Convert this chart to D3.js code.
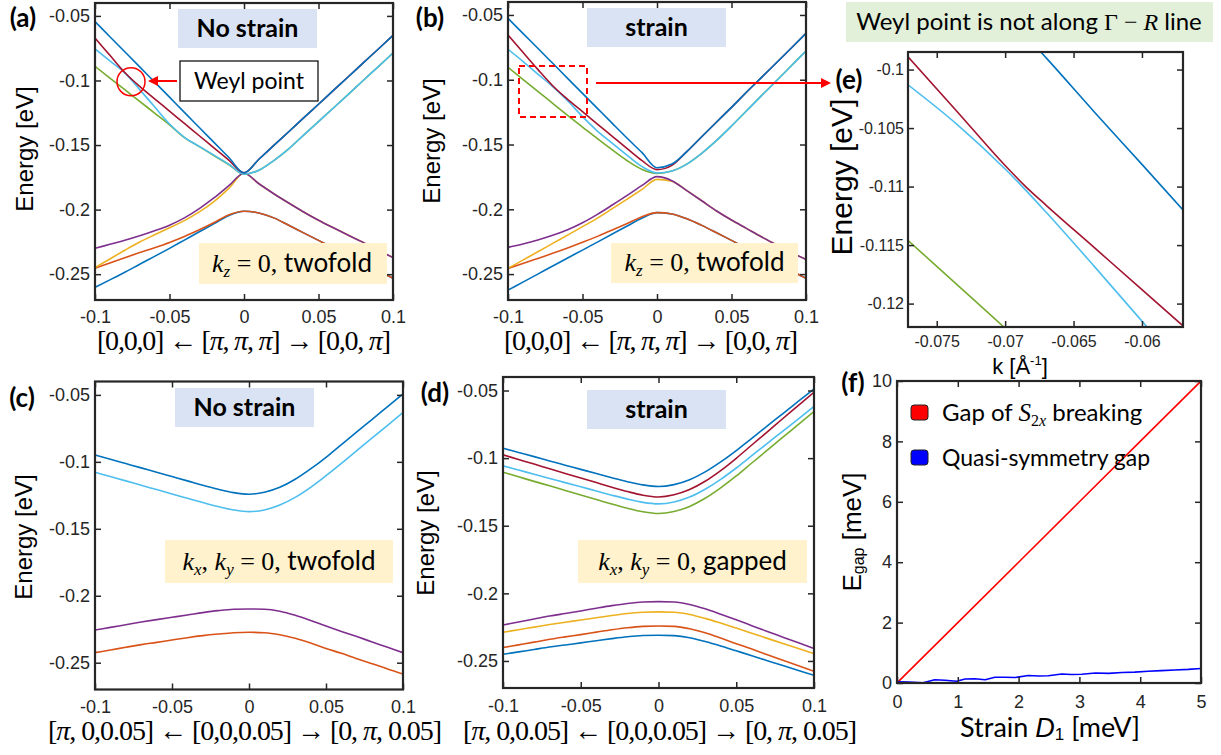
<!DOCTYPE html>
<html>
<head>
<meta charset="utf-8">
<script src="https://cdn.jsdelivr.net/npm/d3@7"></script>
<style>
  html, body { margin: 0; padding: 0; background: #fff; }
  svg { display: block; }
  text { white-space: pre; }
</style>
</head>
<body>
<svg id="fig" width="1221" height="755"></svg>
<script>
// momentum grid shared by panels (a)-(d)
const kGrid = [-0.1,-0.09,-0.08,-0.07,-0.06,-0.05,-0.04,-0.03,-0.02,-0.01,0,0.01,0.02,0.03,0.04,0.05,0.06,0.07,0.08,0.09,0.1];

// (a) no strain, kz = 0
const aBand1 = [-0.2602,-0.2544,-0.2485,-0.2423,-0.2362,-0.2300,-0.2236,-0.2172,-0.2108,-0.2045,-0.2013,-0.2026,-0.2064,-0.2121,-0.2180,-0.2238,-0.2297,-0.2356,-0.2415,-0.2474,-0.2531];
const aBand2 = [-0.2454,-0.2413,-0.2372,-0.2333,-0.2295,-0.2254,-0.2208,-0.2156,-0.2100,-0.2040,-0.2013,-0.2026,-0.2064,-0.2121,-0.2180,-0.2238,-0.2297,-0.2356,-0.2415,-0.2474,-0.2531];
const aBand3 = [-0.2449,-0.2382,-0.2315,-0.2251,-0.2195,-0.2141,-0.2085,-0.2018,-0.1936,-0.1833,-0.1718,-0.1800,-0.1877,-0.1949,-0.2018,-0.2082,-0.2141,-0.2198,-0.2254,-0.2313,-0.2372];
const aBand4 = [-0.2300,-0.2269,-0.2238,-0.2203,-0.2164,-0.2121,-0.2064,-0.1992,-0.1908,-0.1813,-0.1718,-0.1800,-0.1877,-0.1949,-0.2018,-0.2082,-0.2141,-0.2198,-0.2254,-0.2313,-0.2372];
const aBand5 = [-0.0890,-0.0981,-0.1071,-0.1162,-0.1252,-0.1343,-0.1442,-0.1512,-0.1583,-0.1653,-0.1725,-0.1695,-0.1620,-0.1529,-0.1423,-0.1318,-0.1213,-0.1107,-0.1000,-0.0894,-0.0787];
const aBand6 = [-0.0756,-0.0849,-0.0941,-0.1071,-0.1204,-0.1337,-0.1440,-0.1510,-0.1580,-0.1650,-0.1725,-0.1695,-0.1620,-0.1529,-0.1423,-0.1318,-0.1213,-0.1107,-0.1000,-0.0894,-0.0787];
const aBand7 = [-0.0672,-0.0805,-0.0938,-0.1046,-0.1142,-0.1237,-0.1333,-0.1428,-0.1524,-0.1619,-0.1715,-0.1610,-0.1503,-0.1397,-0.1290,-0.1184,-0.1077,-0.0971,-0.0864,-0.0758,-0.0651];
const aBand8 = [-0.0544,-0.0661,-0.0778,-0.0895,-0.1012,-0.1129,-0.1247,-0.1364,-0.1481,-0.1598,-0.1715,-0.1610,-0.1503,-0.1397,-0.1290,-0.1184,-0.1077,-0.0971,-0.0864,-0.0758,-0.0651];

// (b) strain, kz = 0
const bBand1 = [-0.2624,-0.2562,-0.2500,-0.2438,-0.2376,-0.2315,-0.2253,-0.2191,-0.2129,-0.2067,-0.2026,-0.2036,-0.2073,-0.2124,-0.2181,-0.2240,-0.2299,-0.2358,-0.2418,-0.2474,-0.2533];
const bBand2 = [-0.2456,-0.2418,-0.2379,-0.2340,-0.2299,-0.2255,-0.2209,-0.2160,-0.2109,-0.2057,-0.2026,-0.2036,-0.2073,-0.2124,-0.2181,-0.2240,-0.2299,-0.2358,-0.2418,-0.2474,-0.2533];
const bBand3 = [-0.2456,-0.2392,-0.2328,-0.2263,-0.2199,-0.2134,-0.2068,-0.1995,-0.1921,-0.1846,-0.1769,-0.1784,-0.1856,-0.1934,-0.2013,-0.2083,-0.2147,-0.2212,-0.2273,-0.2333,-0.2387];
const bBand4 = [-0.2294,-0.2268,-0.2237,-0.2201,-0.2158,-0.2104,-0.2039,-0.1967,-0.1893,-0.1815,-0.1748,-0.1779,-0.1856,-0.1934,-0.2013,-0.2083,-0.2147,-0.2212,-0.2273,-0.2333,-0.2387];
const bBand5 = [-0.0904,-0.0997,-0.1089,-0.1182,-0.1275,-0.1365,-0.1455,-0.1542,-0.1625,-0.1692,-0.1723,-0.1705,-0.1651,-0.1568,-0.1468,-0.1357,-0.1241,-0.1125,-0.1010,-0.0894,-0.0778];
const bBand6 = [-0.0765,-0.0858,-0.0956,-0.1053,-0.1162,-0.1285,-0.1396,-0.1491,-0.1584,-0.1671,-0.1720,-0.1705,-0.1651,-0.1568,-0.1468,-0.1357,-0.1241,-0.1125,-0.1010,-0.0894,-0.0778];
const bBand7 = [-0.0654,-0.0788,-0.0920,-0.1046,-0.1151,-0.1246,-0.1342,-0.1437,-0.1532,-0.1625,-0.1694,-0.1661,-0.1555,-0.1440,-0.1326,-0.1213,-0.1097,-0.0984,-0.0871,-0.0757,-0.0642];
const bBand8 = [-0.0526,-0.0642,-0.0757,-0.0873,-0.0989,-0.1105,-0.1221,-0.1337,-0.1452,-0.1563,-0.1679,-0.1651,-0.1555,-0.1440,-0.1326,-0.1213,-0.1097,-0.0984,-0.0871,-0.0757,-0.0642];

// (c) no strain, kx,ky = 0 (twofold, only 4 visible bands)
const cBand2 = [-0.2425,-0.2405,-0.2385,-0.2365,-0.2348,-0.2330,-0.2313,-0.2298,-0.2286,-0.2276,-0.2273,-0.2276,-0.2291,-0.2318,-0.2353,-0.2393,-0.2430,-0.2470,-0.2507,-0.2547,-0.2584];
const cBand4 = [-0.2256,-0.2236,-0.2216,-0.2196,-0.2178,-0.2161,-0.2144,-0.2126,-0.2111,-0.2101,-0.2099,-0.2101,-0.2116,-0.2146,-0.2184,-0.2226,-0.2266,-0.2305,-0.2345,-0.2385,-0.2425];
const cBand6 = [-0.1078,-0.1110,-0.1142,-0.1175,-0.1207,-0.1240,-0.1272,-0.1304,-0.1334,-0.1359,-0.1372,-0.1359,-0.1322,-0.1265,-0.1190,-0.1103,-0.1011,-0.0916,-0.0821,-0.0727,-0.0632];
const cBand8 = [-0.0948,-0.0981,-0.1013,-0.1045,-0.1078,-0.1110,-0.1142,-0.1175,-0.1205,-0.1230,-0.1242,-0.1227,-0.1190,-0.1130,-0.1053,-0.0966,-0.0871,-0.0776,-0.0682,-0.0587,-0.0493];

// (d) strain, kx,ky = 0 (gapped)
const dBand1 = [-0.2451,-0.2433,-0.2415,-0.2397,-0.2382,-0.2366,-0.2351,-0.2335,-0.2321,-0.2312,-0.2310,-0.2313,-0.2328,-0.2356,-0.2389,-0.2425,-0.2461,-0.2498,-0.2534,-0.2570,-0.2606];
const dBand2 = [-0.2401,-0.2381,-0.2361,-0.2340,-0.2322,-0.2305,-0.2287,-0.2269,-0.2254,-0.2244,-0.2241,-0.2244,-0.2262,-0.2292,-0.2331,-0.2372,-0.2412,-0.2454,-0.2495,-0.2536,-0.2577];
const dBand3 = [-0.2288,-0.2269,-0.2250,-0.2231,-0.2214,-0.2197,-0.2180,-0.2164,-0.2149,-0.2140,-0.2137,-0.2140,-0.2156,-0.2185,-0.2220,-0.2257,-0.2295,-0.2333,-0.2371,-0.2408,-0.2446];
const dBand4 = [-0.2234,-0.2212,-0.2190,-0.2168,-0.2149,-0.2130,-0.2110,-0.2091,-0.2075,-0.2064,-0.2061,-0.2064,-0.2082,-0.2114,-0.2154,-0.2196,-0.2239,-0.2282,-0.2324,-0.2366,-0.2409];
const dBand5 = [-0.1104,-0.1138,-0.1172,-0.1205,-0.1239,-0.1273,-0.1306,-0.1340,-0.1371,-0.1397,-0.1410,-0.1395,-0.1357,-0.1297,-0.1220,-0.1132,-0.1036,-0.0941,-0.0845,-0.0751,-0.0655];
const dBand6 = [-0.1057,-0.1088,-0.1119,-0.1150,-0.1181,-0.1212,-0.1243,-0.1274,-0.1303,-0.1327,-0.1338,-0.1324,-0.1288,-0.1230,-0.1157,-0.1073,-0.0982,-0.0891,-0.0800,-0.0709,-0.0618];
const dBand7 = [-0.0976,-0.1010,-0.1044,-0.1079,-0.1113,-0.1147,-0.1181,-0.1215,-0.1247,-0.1274,-0.1287,-0.1271,-0.1232,-0.1171,-0.1092,-0.1001,-0.0903,-0.0806,-0.0707,-0.0610,-0.0512];
const dBand8 = [-0.0927,-0.0958,-0.0989,-0.1021,-0.1052,-0.1083,-0.1114,-0.1145,-0.1174,-0.1198,-0.1210,-0.1196,-0.1160,-0.1102,-0.1028,-0.0944,-0.0853,-0.0762,-0.0670,-0.0579,-0.0488];

// (e) zoom near the avoided crossing, k in 1/Angstrom
const eK = [-0.0771,-0.0735,-0.07,-0.0685,-0.067,-0.0635,-0.06,-0.057];
const eGreen = [-0.1146,-0.1184,-0.1221,-0.1237,-0.1253,-0.1290,-0.1327,-0.1359];
const eCyan  = [-0.1013,-0.1047,-0.1085,-0.1103,-0.1122,-0.1168,-0.1215,-0.1256];
const eRed   = [-0.0989,-0.1036,-0.1082,-0.1100,-0.1116,-0.1152,-0.1188,-0.1219];
const eBlue  = [-0.0859,-0.0906,-0.0951,-0.0971,-0.0990,-0.1036,-0.1081,-0.1120];

// (f) gaps vs strain D1 (meV)
const fStrain = [0,1,2,3,4,5];
const fGapS2x = [0,2,4,6,8,10];
const fQuasiX = [0,0.19,0.43,0.62,0.79,0.98,1.12,1.28,1.45,1.61,1.78,1.94,2.16,2.33,2.49,2.71,2.87,3.04,3.26,3.48,3.7,3.91,4.13,4.35,4.57,4.79,5];
const fQuasiY = [0.04,0.03,0.01,0.11,0.09,0.06,0.13,0.14,0.11,0.19,0.19,0.18,0.25,0.23,0.24,0.3,0.28,0.29,0.33,0.32,0.35,0.36,0.39,0.41,0.43,0.45,0.48];

// tick values
const kTicks = [-0.1,-0.05,0,0.05,0.1];
const energyTicks = [-0.25,-0.2,-0.15,-0.1,-0.05];
const eKTicks = [-0.075,-0.07,-0.065,-0.06];
const eEnergyTicks = [-0.12,-0.115,-0.11,-0.105,-0.1];
const fXTicks = [0,1,2,3,4,5];
const fYTicks = [0,2,4,6,8,10];

// matlab default colours
const C = {blue: "#0072BD", orange: "#D95319", yellow: "#EDB120", purple: "#7E2F8E",
           green: "#77AC30", cyan: "#4DBEEE", red: "#A2142F"};
const SANS = "'Liberation Sans', Arial, sans-serif";
const CAL = "Lato, 'Open Sans', sans-serif";
const SERIF = "'Liberation Serif', 'DejaVu Serif', serif";
const INK = "#262626";

const svg = d3.select("#fig");
const defs = svg.append("defs");
defs.append("marker")
    .attr("id", "head")
    .attr("viewBox", "0 0 10 10")
    .attr("refX", 8).attr("refY", 5)
    .attr("markerWidth", 10).attr("markerHeight", 10)
    .attr("markerUnits", "userSpaceOnUse")
    .attr("orient", "auto")
  .append("path")
    .attr("d", "M0,0L10,5L0,10z")
    .attr("fill", "#ff0000");

const panels = [
    {id: "a", x0: 95, x1: 393, y0: 3, y1: 300, xDom: [-0.1, 0.1], yDom: [-0.27, -0.04],
     xTicks: kTicks, yTicks: energyTicks, font: 18, xPad: 10, yPad: 5,
     series: [[kGrid, aBand1, C.blue], [kGrid, aBand2, C.orange], [kGrid, aBand3, C.yellow], [kGrid, aBand4, C.purple],
              [kGrid, aBand5, C.green], [kGrid, aBand6, C.cyan], [kGrid, aBand7, C.red], [kGrid, aBand8, C.blue]]},
    {id: "b", x0: 508, x1: 806, y0: 2, y1: 300, xDom: [-0.1, 0.1], yDom: [-0.27, -0.04],
     xTicks: kTicks, yTicks: energyTicks, font: 18, xPad: 10, yPad: 5,
     series: [[kGrid, bBand1, C.blue], [kGrid, bBand2, C.orange], [kGrid, bBand3, C.yellow], [kGrid, bBand4, C.purple],
              [kGrid, bBand5, C.green], [kGrid, bBand6, C.cyan], [kGrid, bBand7, C.red], [kGrid, bBand8, C.blue]]},
    {id: "c", x0: 95, x1: 403, y0: 381.5, y1: 689.5, xDom: [-0.1, 0.1], yDom: [-0.27, -0.04],
     xTicks: kTicks, yTicks: energyTicks, font: 18, xPad: 11, yPad: 5,
     series: [[kGrid, cBand2, C.orange], [kGrid, cBand4, C.purple], [kGrid, cBand6, C.cyan], [kGrid, cBand8, C.blue]]},
    {id: "d", x0: 503, x1: 814, y0: 377, y1: 688, xDom: [-0.1, 0.1], yDom: [-0.27, -0.04],
     xTicks: kTicks, yTicks: energyTicks, font: 18, xPad: 11, yPad: 5,
     series: [[kGrid, dBand1, C.blue], [kGrid, dBand2, C.orange], [kGrid, dBand3, C.yellow], [kGrid, dBand4, C.purple],
              [kGrid, dBand5, C.green], [kGrid, dBand6, C.cyan], [kGrid, dBand7, C.red], [kGrid, dBand8, C.blue]]},
    {id: "e", x0: 908, x1: 1183, y0: 52, y1: 327, xDom: [-0.0771, -0.057], yDom: [-0.122, -0.0985],
     xTicks: eKTicks, yTicks: eEnergyTicks, font: 16, xPad: 9, yPad: 4,
     series: [[eK, eGreen, C.green], [eK, eCyan, C.cyan], [eK, eRed, C.red], [eK, eBlue, C.blue]]},
    {id: "f", x0: 897, x1: 1201, y0: 381, y1: 683, xDom: [0, 5], yDom: [0, 10],
     xTicks: fXTicks, yTicks: fYTicks, font: 18, xPad: 12, yPad: 5, linear: true,
     series: [[fStrain, fGapS2x, "#ff0000"], [fQuasiX, fQuasiY, "#0000ff"]]}
];

function drawPanel(p) {
    const x = d3.scaleLinear().domain(p.xDom).range([p.x0, p.x1]);
    const y = d3.scaleLinear().domain(p.yDom).range([p.y1, p.y0]);

    defs.append("clipPath").attr("id", "clip-" + p.id)
      .append("rect")
        .attr("x", p.x0).attr("y", p.y0)
        .attr("width", p.x1 - p.x0).attr("height", p.y1 - p.y0);

    const line = d3.line()
        .x(d => x(d[0]))
        .y(d => y(d[1]))
        .curve(p.linear ? d3.curveLinear : d3.curveMonotoneX);

    const g = svg.append("g").attr("clip-path", `url(#clip-${p.id})`);
    p.series.forEach(([xs, ys, col]) => {
        g.append("path")
            .datum(d3.zip(xs, ys))
            .attr("fill", "none")
            .attr("stroke", col)
            .attr("stroke-width", 1.6)
            .attr("stroke-linejoin", "round")
            .attr("d", line);
    });

    // axes, ticks inward on all four sides like matlab's box on
    const fmt = d => String(d);
    const none = () => "";
    const axes = [
        [d3.axisBottom(x).tickValues(p.xTicks).tickFormat(fmt).tickPadding(p.xPad), `translate(0,${p.y1})`],
        [d3.axisTop(x).tickValues(p.xTicks).tickFormat(none), `translate(0,${p.y0})`],
        [d3.axisLeft(y).tickValues(p.yTicks).tickFormat(fmt).tickPadding(p.yPad), `translate(${p.x0},0)`],
        [d3.axisRight(y).tickValues(p.yTicks).tickFormat(none), `translate(${p.x1},0)`]
    ];
    axes.forEach(([a, tr]) => {
        const ag = svg.append("g")
            .attr("transform", tr)
            .call(a.tickSizeInner(-6).tickSizeOuter(0));
        ag.select(".domain").remove();
        ag.attr("color", INK)
          .attr("font-family", SANS)
          .attr("font-size", p.font);
        ag.selectAll("line").attr("stroke-width", 1.5);
    });

    svg.append("rect")
        .attr("x", p.x0).attr("y", p.y0)
        .attr("width", p.x1 - p.x0).attr("height", p.y1 - p.y0)
        .attr("fill", "none")
        .attr("stroke", INK)
        .attr("stroke-width", 2.2);
}

panels.forEach(drawPanel);

// text made of pieces (italic maths, subscripts, other fonts)
function rich(x, y, parts, o) {
    const t = svg.append("text")
        .attr("x", x).attr("y", y)
        .attr("text-anchor", o.anchor || "middle")
        .attr("font-family", o.family)
        .attr("font-size", o.size)
        .attr("fill", o.fill || "#000");
    if (o.weight) t.attr("font-weight", o.weight);
    if (o.rotate) t.attr("transform", `rotate(-90,${x},${y})`);
    if (o.len) t.attr("textLength", o.len).attr("lengthAdjust", "spacing");
    parts.forEach(p => {
        if (typeof p === "string") p = {t: p};
        const s = t.append("tspan").text(p.t);
        if (p.it) s.attr("font-style", "italic");
        if (p.fam) s.attr("font-family", p.fam);
        if (p.size) s.attr("font-size", p.size);
        if (p.dy) s.attr("dy", p.dy);
    });
    return t;
}

function box(x, y, w, h, fill, stroke) {
    svg.append("rect").attr("x", x).attr("y", y).attr("width", w).attr("height", h)
        .attr("fill", fill)
        .attr("stroke", stroke || "none")
        .attr("stroke-width", stroke ? 1.2 : 0);
}

// panel letters
[["(a)", 23, 27], ["(b)", 430, 27], ["(c)", 22, 407], ["(d)", 435, 402], ["(e)", 849, 89], ["(f)", 853, 392]]
    .forEach(([s, x, y]) => rich(x, y, [s], {family: CAL, size: 26, weight: "bold"}));

// y labels
[[24, 149, 24], [431, 141, 24], [23, 537, 24], [425, 533, 24], [841, 177, 30]]
    .forEach(([x, y, s]) => rich(x, y, ["Energy [eV]"], {family: SANS, size: s, rotate: true})
        .attr("dominant-baseline", "central"));
rich(852, 532, ["E", {t: "gap", size: 16, dy: 6}, {t: " [meV]", dy: -6}], {family: SANS, size: 26, rotate: true})
    .attr("dominant-baseline", "central");

// x labels
const pathRGamma = ["[0,0,0] \u2190 [", {t: "\u03c0", it: true}, ", ", {t: "\u03c0", it: true}, ", ",
                    {t: "\u03c0", it: true}, "] \u2192 [0,0, ", {t: "\u03c0", it: true}, "]"];
const pathZ = ["[", {t: "\u03c0", it: true}, ", 0,0.05] \u2190 [0,0,0.05] \u2192 [0, ", {t: "\u03c0", it: true}, ", 0.05]"];
rich(244, 350, pathRGamma, {family: SERIF, size: 28, len: 294});
rich(651, 350, pathRGamma, {family: SERIF, size: 28, len: 294});
rich(245, 740, pathZ, {family: SERIF, size: 28, len: 394});
rich(660, 740, pathZ, {family: SERIF, size: 28, len: 394});
rich(1020, 374, ["k [\u00c5", {t: "-1", size: 13, dy: -9}, {t: "]", dy: 9}], {family: SANS, size: 22});
rich(1050, 737, ["Strain ", {t: "D", it: true, fam: SANS}, {t: "1", size: 17, dy: 3, fam: SANS}, {t: " [meV]", dy: -3}], {family: CAL, size: 27});

// annotation boxes
box(178, 9, 139, 39, "#dae3f3");
rich(247.5, 37, ["No strain"], {family: CAL, size: 25, weight: "bold"});
box(587, 8, 139, 39, "#dae3f3");
rich(656.5, 36, ["strain"], {family: CAL, size: 25, weight: "bold"});
box(175, 388, 139, 39, "#dae3f3");
rich(244.5, 416, ["No strain"], {family: CAL, size: 25, weight: "bold"});
box(587, 390, 139, 39, "#dae3f3");
rich(656.5, 418, ["strain"], {family: CAL, size: 25, weight: "bold"});

box(180, 61, 138, 40, "#fff", "#000");
rich(249, 89, ["Weyl point"], {family: CAL, size: 23});

const kz = (tail) => [{t: "k", it: true}, {t: "z", it: true, size: 17, dy: 5}, {t: " = 0, ", dy: -5}, {t: tail, fam: CAL}];
const kxy = (tail) => [{t: "k", it: true}, {t: "x", it: true, size: 17, dy: 5}, {t: ", ", dy: -5},
                       {t: "k", it: true}, {t: "y", it: true, size: 17, dy: 5}, {t: " = 0, ", dy: -5}, {t: tail, fam: CAL}];
box(199, 243, 188, 41, "#fff2cc");
rich(292, 272, kz("twofold"), {family: SERIF, size: 26});
box(611, 243, 187, 40, "#fff2cc");
rich(704.5, 271, kz("twofold"), {family: SERIF, size: 26});
box(165, 540, 228, 43, "#fff2cc");
rich(279, 570, kxy("twofold"), {family: SERIF, size: 26});
box(578, 540, 229, 43, "#fff2cc");
rich(692.5, 570, kxy("gapped"), {family: SERIF, size: 26});

box(846, 2, 367, 40, "#e2f0d9");
rich(1029, 30, ["Weyl point is not along ", {t: "\u0393", fam: SERIF}, {t: " \u2212 ", fam: SERIF}, {t: "R", it: true, fam: SERIF}, " line"],
     {family: CAL, size: 24});

// red markers: weyl circle, arrows, dashed zoom box
svg.append("circle").attr("cx", 131).attr("cy", 81.7).attr("r", 14)
    .attr("fill", "none").attr("stroke", "#ff0000").attr("stroke-width", 1.5);
svg.append("line").attr("x1", 177).attr("y1", 81).attr("x2", 150).attr("y2", 81)
    .attr("stroke", "#ff0000").attr("stroke-width", 2).attr("marker-end", "url(#head)");
svg.append("rect").attr("x", 519).attr("y", 66).attr("width", 68).attr("height", 51)
    .attr("fill", "none").attr("stroke", "#ff0000").attr("stroke-width", 2).attr("stroke-dasharray", "6,4");
svg.append("line").attr("x1", 596).attr("y1", 83).attr("x2", 829).attr("y2", 83)
    .attr("stroke", "#ff0000").attr("stroke-width", 2).attr("marker-end", "url(#head)");

// legend of (f)
svg.append("rect").attr("x", 911).attr("y", 405).attr("width", 17).attr("height", 15).attr("rx", 3)
    .attr("fill", "#ff0000").attr("stroke", "#222").attr("stroke-width", 1);
rich(942, 421, ["Gap of ", {t: "S", it: true, fam: SERIF, size: 25}, {t: "2", fam: SERIF, size: 16, dy: 5}, {t: "x", it: true, fam: SERIF, size: 16},
                {t: " breaking", dy: -5}], {family: CAL, size: 24, anchor: "start"});
svg.append("rect").attr("x", 911).attr("y", 450).attr("width", 17).attr("height", 15).attr("rx", 3)
    .attr("fill", "#0000ff").attr("stroke", "#222").attr("stroke-width", 1);
rich(942, 466, ["Quasi-symmetry gap"], {family: CAL, size: 23, anchor: "start"});
</script>
</body>
</html>
